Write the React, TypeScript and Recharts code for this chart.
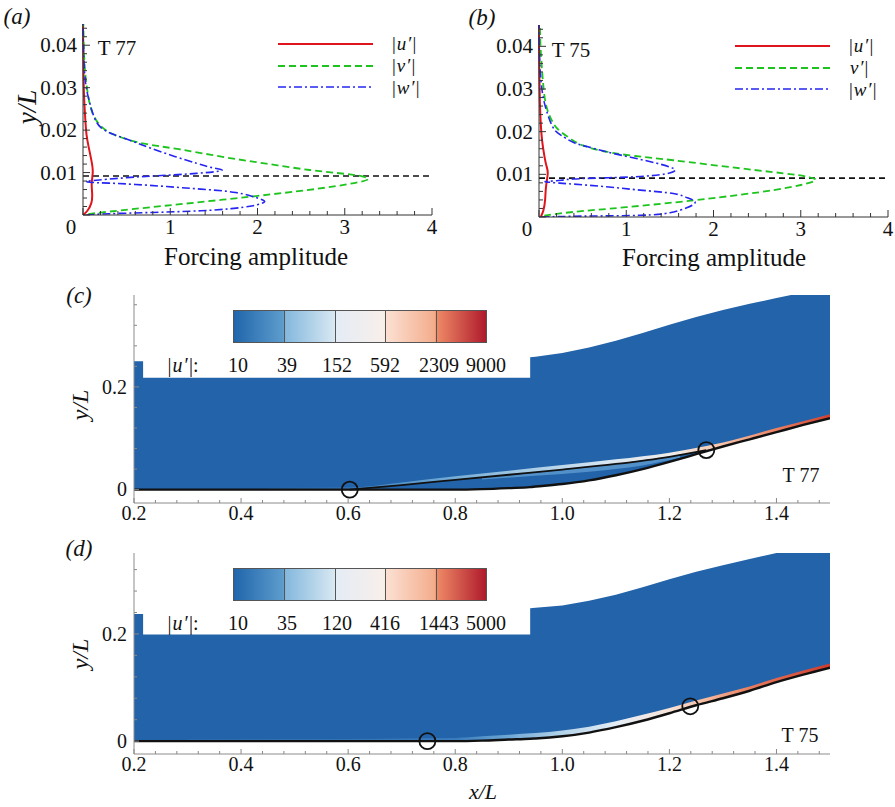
import React from 'react';
import { Area, ComposedChart, Legend, Line, ReferenceDot, ReferenceLine, XAxis, YAxis } from 'recharts';

const SERIF = "'Liberation Serif', 'Times New Roman', Times, serif";
const BLUE = '#2263a9';

// forcing profiles (a) T77, pairs of [amplitude, y/L]
const t77U = [[0, 0], [0.05, 0.001], [0.095, 0.0028], [0.105, 0.005], [0.1, 0.0075], [0.112, 0.0102], [0.095, 0.013], [0.065, 0.016], [0.04, 0.019], [0.025, 0.023], [0.012, 0.028], [0.005, 0.034], [0.001, 0.04], [0, 0.045]];
const t77V = [[0.06, 0.0002], [0.3, 0.0008], [0.9, 0.0021], [1.6, 0.0036], [2.3, 0.0052], [2.8, 0.0065], [3.15, 0.0077], [3.27, 0.0085], [3.2, 0.0091], [3.0, 0.0097], [2.6, 0.0106], [2.1, 0.0121], [1.6, 0.0137], [1.1, 0.0155], [0.7, 0.0168], [0.45, 0.0182], [0.3, 0.0195], [0.18, 0.0215], [0.1, 0.0245], [0.06, 0.028], [0.03, 0.0325], [0.012, 0.038], [0.004, 0.045]];
const t77W = [[0.04, 0], [0.3, 0.0003], [0.8, 0.0006], [1.35, 0.001], [1.7, 0.0015], [1.95, 0.0022], [2.08, 0.0031], [2.0, 0.004], [1.75, 0.0053], [1.35, 0.0061], [0.96, 0.0067], [0.6, 0.0072], [0.3, 0.0075], [0.08, 0.0077], [0.04, 0.0079], [0.1, 0.0081], [0.5, 0.0088], [0.9, 0.0093], [1.3, 0.0098], [1.55, 0.0103], [1.58, 0.0107], [1.45, 0.0113], [1.3, 0.0122], [1.05, 0.0138], [0.77, 0.0158], [0.55, 0.0175], [0.35, 0.019], [0.2, 0.0207], [0.12, 0.0235], [0.07, 0.027], [0.03, 0.031], [0.01, 0.037], [0, 0.045]];
const t77Ref = 0.0092;

// forcing profiles (b) T75
const t75U = [[0.02, 0], [0.05, 0.0015], [0.07, 0.004], [0.08, 0.007], [0.1, 0.0102], [0.085, 0.012], [0.06, 0.0145], [0.035, 0.018], [0.02, 0.022], [0.01, 0.027], [0.004, 0.033], [0, 0.04], [0, 0.045]];
const t75V = [[0.06, 0.0003], [0.4, 0.0012], [1.0, 0.0023], [1.77, 0.0039], [2.3, 0.0052], [2.69, 0.0063], [3.0, 0.0075], [3.17, 0.0086], [3.1, 0.0093], [2.9, 0.01], [2.31, 0.0114], [1.54, 0.0133], [1.1, 0.0143], [0.77, 0.0153], [0.5, 0.0168], [0.35, 0.0185], [0.22, 0.0205], [0.15, 0.0225], [0.085, 0.0259], [0.047, 0.0314], [0.02, 0.039], [0.01, 0.045]];
const t75W = [[0.03, 0], [0.5, 0.0002], [1.16, 0.0004], [1.5, 0.001], [1.7, 0.0022], [1.79, 0.0035], [1.7, 0.0045], [1.54, 0.0055], [1.16, 0.0063], [0.77, 0.0071], [0.4, 0.0077], [0.2, 0.008], [0.07, 0.0083], [0.2, 0.0085], [0.39, 0.0089], [0.8, 0.0092], [1.16, 0.0095], [1.45, 0.0101], [1.56, 0.011], [1.5, 0.0117], [1.35, 0.0126], [1.05, 0.014], [0.77, 0.0153], [0.55, 0.0165], [0.39, 0.0175], [0.25, 0.0192], [0.16, 0.021], [0.085, 0.025], [0.04, 0.029], [0.015, 0.034], [0.003, 0.04], [0, 0.045]];
const t75Ref = 0.0091;

const ampLabels = [0, 1, 2, 3, 4];
const profLabels = [0.01, 0.02, 0.03, 0.04];

// contour panels
const xLabels = [0.2, 0.4, 0.6, 0.8, 1.0, 1.2, 1.4];
const fieldYLabels = [0, 0.2];

const t77X = [0.2, 0.217, 0.217, 0.4, 0.6, 0.8, 0.85, 0.9, 0.94, 0.94, 0.95, 1.0, 1.05, 1.1, 1.15, 1.2, 1.25, 1.3, 1.35, 1.4, 1.45, 1.5];
const t77Wall = [0, 0, 0, 0, 0, 0, 0.001, 0.003, 0.005, 0.005, 0.006, 0.011, 0.018, 0.028, 0.04, 0.054, 0.069, 0.084, 0.098, 0.112, 0.126, 0.139];
const t77Top = [0.25, 0.25, 0.218, 0.218, 0.218, 0.218, 0.218, 0.218, 0.218, 0.258, 0.259, 0.266, 0.277, 0.29, 0.305, 0.321, 0.336, 0.35, 0.362, 0.373, 0.384, 0.395];
const t77ShearX = [0.603, 0.7, 0.8, 0.9, 1.0, 1.1, 1.2, 1.269];
const t77ShearY = [0, 0.009, 0.019, 0.029, 0.039, 0.05, 0.064, 0.077];
const t77BandX = [0.45, 0.603, 0.7, 0.8, 0.9, 1.0, 1.1, 1.2, 1.269, 1.3, 1.4, 1.5];
const t77BandLo = [0, 0, 0.009, 0.019, 0.029, 0.039, 0.05, 0.064, 0.077, 0.084, 0.112, 0.139];
const t77BandHi = [0.003, 0.004, 0.014, 0.026, 0.037, 0.048, 0.059, 0.072, 0.085, 0.092, 0.12, 0.147];
const t77BubX = [0.85, 0.95, 1.05, 1.15, 1.22];
const t77BubLo = [0.02, 0.027, 0.035, 0.047, 0.062];
const t77BubHi = [0.023, 0.033, 0.044, 0.057, 0.068];
const t77Marks = [[0.603, 0], [1.269, 0.077]];
const t77Levels = ['10', '39', '152', '592', '2309', '9000'];

const t75X = [0.2, 0.217, 0.217, 0.4, 0.6, 0.8, 0.85, 0.9, 0.94, 0.94, 0.95, 1.0, 1.05, 1.1, 1.15, 1.2, 1.25, 1.3, 1.35, 1.4, 1.45, 1.5];
const t75Wall = [0, 0, 0, 0, 0, 0, 0.001, 0.003, 0.0045, 0.0045, 0.005, 0.009, 0.016, 0.026, 0.038, 0.052, 0.067, 0.08, 0.094, 0.11, 0.124, 0.137];
const t75Top = [0.237, 0.237, 0.199, 0.199, 0.199, 0.199, 0.199, 0.199, 0.199, 0.248, 0.249, 0.253, 0.262, 0.273, 0.287, 0.302, 0.316, 0.328, 0.34, 0.351, 0.362, 0.373];
const t75BandX = [0.3, 0.5, 0.7, 0.8, 0.85, 0.9, 0.95, 1.0, 1.05, 1.1, 1.15, 1.2, 1.25, 1.3, 1.35, 1.4, 1.45, 1.5];
const t75BandLo = [0, 0, 0, 0, 0.001, 0.003, 0.005, 0.009, 0.016, 0.026, 0.038, 0.052, 0.067, 0.08, 0.094, 0.11, 0.124, 0.137];
const t75BandHi = [0.004, 0.004, 0.005, 0.006, 0.009, 0.012, 0.015, 0.02, 0.027, 0.037, 0.049, 0.062, 0.076, 0.089, 0.102, 0.118, 0.132, 0.145];
const t75Marks = [[0.748, 0], [1.239, 0.065]];
const t75Levels = ['10', '35', '120', '416', '1443', '5000'];

const pts = (a: number[][]) => a.map(([x, y]) => ({ x, y }));
// keep one point per x for the wall line
const zip = (xs: number[], ys: number[]) => xs.map((x, i) => ({ x, y: ys[i] })).filter((p, i, all) => i === 0 || p.x !== all[i - 1].x);
const zip3 = (xs: number[], lo: number[], hi: number[]) => xs.map((x, i) => ({ x, lo: lo[i], hi: hi[i] }));
const steps = (from: number, to: number, step: number) => {
  const out: number[] = [];
  for (let v = from; v <= to + 1e-9; v += step) out.push(Math.round(v * 10000) / 10000);
  return out;
};
const near = (list: number[], v: number) => list.some((m) => Math.abs(m - v) < 1e-7);

type Side = 'left' | 'right' | 'top' | 'bottom';
type TickOpts = { gap: number; minor: number; major: number; size: number; color: string; fmt: (v: number) => string; zeroDx?: number };

function inwardTick(side: Side, majors: number[], labels: number[], o: TickOpts) {
  return (p: any) => {
    const v = p.payload.value;
    const len = near(majors, v) ? o.major : o.minor;
    const show = near(labels, v);
    const ts = { fontFamily: SERIF, fontSize: o.size, fill: '#111' };
    let ln: React.ReactNode = null;
    let tx: React.ReactNode = null;
    if (side === 'left') {
      const ax = p.x + o.gap;
      ln = <line x1={ax} x2={ax + len} y1={p.y} y2={p.y} stroke={o.color} />;
      if (show) tx = <text x={p.x} y={p.y} dy="0.34em" textAnchor="end" style={ts}>{o.fmt(v)}</text>;
    } else if (side === 'right') {
      ln = <line x1={p.x} x2={p.x - len} y1={p.y} y2={p.y} stroke={o.color} />;
    } else if (side === 'top') {
      ln = <line x1={p.x} x2={p.x} y1={p.y} y2={p.y + len} stroke={o.color} />;
    } else {
      const ay = p.y - o.gap;
      ln = <line x1={p.x} x2={p.x} y1={ay} y2={ay - len} stroke={o.color} />;
      if (show) tx = <text x={p.x + (v === 0 && o.zeroDx ? o.zeroDx : 0)} y={p.y} dy="0.72em" textAnchor="middle" style={ts}>{o.fmt(v)}</text>;
    }
    return <g>{ln}{tx}</g>;
  };
}

function Txt({ x, y, size, italic, rotate, children }: { x: number; y: number; size: number; italic?: boolean; rotate?: boolean; children: React.ReactNode }) {
  return (
    <div style={{ position: 'absolute', left: x, top: y, transform: `translate(-50%, -50%)${rotate ? ' rotate(-90deg)' : ''}`, fontSize: size, fontStyle: italic ? 'italic' : 'normal', fontFamily: SERIF, whiteSpace: 'nowrap', lineHeight: 1, color: '#111' }}>
      {children}
    </div>
  );
}

// |u'| style label: upright bars, italic symbol
function Sym({ pre, sym, post }: { pre: string; sym: string; post: string }) {
  return (
    <span>
      {pre}<i style={{ padding: '0 2px 0 1px' }}>{sym}</i>{post}
    </span>
  );
}

type Series = { key: string; data: number[][]; color: string; dash?: string; width: number; pre: string; sym: string };

function ProfilePanel({ left, width, top, right, xAxisH, yAxisW, series, refY, legendLeft, legendTop }: { left: number; width: number; top: number; right: number; xAxisH: number; yAxisW: number; series: Series[]; refY: number; legendLeft: number; legendTop: number }) {
  const xT = steps(0, 4, 0.2);
  const yT = steps(0, 0.044, 0.002);
  const yMaj = steps(0, 0.04, 0.01);
  const base = { gap: 6, minor: 4, major: 7, size: 21, color: '#333' };
  const legend = () => (
    <div style={{ fontFamily: SERIF }}>
      {series.map((s) => (
        <div key={s.key} style={{ display: 'flex', alignItems: 'center', height: 21.7 }}>
          <svg width={95} height={8}>
            <line x1={0} x2={95} y1={4} y2={4} stroke={s.color} strokeWidth={s.width} strokeDasharray={s.dash} />
          </svg>
          <span style={{ marginLeft: 19, fontSize: 19, lineHeight: 1, color: '#111' }}>
            <Sym pre={s.pre} sym={s.sym} post={'\u2032|'} />
          </span>
        </div>
      ))}
    </div>
  );
  return (
    <div style={{ position: 'absolute', left, top: 0 }}>
      <ComposedChart width={width} height={280} margin={{ top, right, bottom: 0, left: 0 }}>
        <XAxis xAxisId={0} dataKey="x" type="number" domain={[0, 4]} ticks={xT} interval={0} height={xAxisH} tickSize={0} tickMargin={4} axisLine={{ stroke: '#333' }} tickLine={false}
          tick={inwardTick('bottom', ampLabels, ampLabels, { ...base, gap: 4, fmt: (v) => String(v), zeroDx: -12 })} />
        <XAxis xAxisId="t" orientation="top" type="number" domain={[0, 4]} ticks={xT} interval={0} height={0} tickSize={0} tickMargin={0} axisLine={{ stroke: '#333' }} tickLine={false}
          tick={inwardTick('top', ampLabels, [], { ...base, fmt: String })} />
        <YAxis yAxisId={0} type="number" domain={[0, 0.045]} ticks={yT} interval={0} width={yAxisW} tickSize={0} tickMargin={6} axisLine={{ stroke: '#333' }} tickLine={false} allowDataOverflow
          tick={inwardTick('left', yMaj, profLabels, { ...base, fmt: (v) => v.toFixed(2) })} />
        <YAxis yAxisId="r" orientation="right" type="number" domain={[0, 0.045]} ticks={yT} interval={0} width={0} tickSize={0} tickMargin={0} axisLine={{ stroke: '#333' }} tickLine={false}
          tick={inwardTick('right', yMaj, [], { ...base, fmt: String })} />
        <ReferenceLine y={refY} stroke="#111" strokeDasharray="6 4" strokeWidth={1.6} />
        {series.map((s) => (
          <Line key={s.key} name={s.key} data={pts(s.data)} dataKey="y" type="natural" stroke={s.color} strokeWidth={s.width} strokeDasharray={s.dash} dot={false} activeDot={false} isAnimationActive={false} />
        ))}
        <Legend layout="horizontal" verticalAlign="middle" align="center" content={legend} wrapperStyle={{ left: legendLeft, top: legendTop, width: 170 }} />
      </ComposedChart>
    </div>
  );
}

type Field = {
  top: number; height: number; mTop: number; xAxisH: number; yDomain: [number, number];
  x: number[]; wall: number[]; upper: number[];
  shearX?: number[]; shearY?: number[];
  bandX: number[]; bandLo: number[]; bandHi: number[]; stops: [number, string][];
  bubX?: number[]; bubLo?: number[]; bubHi?: number[];
  marks: number[][]; id: string;
};

function FieldPanel(f: Field) {
  const xT = steps(0.2, 1.5, 0.04);
  const yT = steps(0, f.yDomain[1], 0.04);
  const base = { gap: 3, minor: 3, major: 5, size: 20, color: '#888' };
  const range = (d: any) => [d.lo, d.hi];
  return (
    <div style={{ position: 'absolute', left: 0, top: f.top }}>
      <ComposedChart width={895} height={f.height} margin={{ top: f.mTop, right: 65, bottom: 0, left: 0 }}>
        <defs>
          <linearGradient id={f.id} x1="0" y1="0" x2="1" y2="0">
            {f.stops.map(([o, c]) => <stop key={o} offset={o} stopColor={c} />)}
          </linearGradient>
        </defs>
        <XAxis xAxisId={0} dataKey="x" type="number" domain={[0.2, 1.5]} ticks={xT} interval={0} height={f.xAxisH} tickSize={0} tickMargin={3} axisLine={{ stroke: '#8c8c8c' }} tickLine={false} allowDataOverflow
          tick={inwardTick('bottom', xLabels, xLabels, { ...base, fmt: (v) => v.toFixed(1) })} />
        <XAxis xAxisId="t" orientation="top" type="number" domain={[0.2, 1.5]} ticks={xT} interval={0} height={0} tickSize={0} tickMargin={0} axisLine={{ stroke: '#8c8c8c' }} tickLine={false}
          tick={inwardTick('top', xLabels, [], { ...base, fmt: String })} />
        <YAxis yAxisId={0} type="number" domain={f.yDomain} ticks={yT} interval={0} width={134} tickSize={0} tickMargin={7} axisLine={{ stroke: '#8c8c8c' }} tickLine={false} allowDataOverflow
          tick={inwardTick('left', fieldYLabels, fieldYLabels, { ...base, gap: 7, fmt: (v) => (v === 0 ? '0' : v.toFixed(1)) })} />
        <YAxis yAxisId="r" orientation="right" type="number" domain={f.yDomain} ticks={yT} interval={0} width={0} tickSize={0} tickMargin={0} axisLine={{ stroke: '#8c8c8c' }} tickLine={false}
          tick={inwardTick('right', fieldYLabels, [], { ...base, fmt: String })} />
        <Area data={zip3(f.x, f.wall, f.upper)} dataKey={range} type="linear" fill={BLUE} fillOpacity={1} stroke="none" isAnimationActive={false} />
        <Area data={zip3(f.bandX, f.bandLo, f.bandHi)} dataKey={range} type="monotone" fill={`url(#${f.id})`} fillOpacity={1} stroke="none" isAnimationActive={false} />
        {f.bubX && (
          <Area data={zip3(f.bubX, f.bubLo!, f.bubHi!)} dataKey={range} type="monotone" fill="#5e9bd0" fillOpacity={0.8} stroke="none" isAnimationActive={false} />
        )}
        <Line data={zip(f.x, f.wall)} dataKey="y" type="monotone" stroke="#111" strokeWidth={2.4} dot={false} activeDot={false} isAnimationActive={false} />
        {f.shearX && (
          <Line data={zip(f.shearX, f.shearY!)} dataKey="y" type="monotone" stroke="#111" strokeWidth={1.8} dot={false} activeDot={false} isAnimationActive={false} />
        )}
        {f.marks.map(([x, y]) => (
          <ReferenceDot key={x} x={x} y={y} r={8} fill="none" stroke="#111" strokeWidth={1.8} />
        ))}
      </ComposedChart>
    </div>
  );
}

const CB_GRAD = 'linear-gradient(to right, #2166ac 0%, #5d9ccc 19.5%, #84b8dd 20.5%, #d6e7f2 39.5%, #e4ecf5 40.5%, #f8efea 59.5%, #fbe0d2 60.5%, #f4ad8d 79.5%, #ee8a66 80.5%, #b01a2c 100%)';
const levelX = [238, 287, 337, 385, 439, 486];

function Colorbar({ top, levels }: { top: number; levels: string[] }) {
  const left = 233;
  const w = 254;
  return (
    <>
      <div style={{ position: 'absolute', left, top, width: w, height: 33, background: CB_GRAD, border: '1px solid #555', boxSizing: 'border-box' }}>
        {[1, 2, 3, 4].map((i) => (
          <div key={i} style={{ position: 'absolute', left: (i * w) / 5 - 1, top: 0, bottom: 0, width: 1, background: '#555' }} />
        ))}
      </div>
      <Txt x={183} y={top + 55} size={20}><Sym pre="|" sym="u" post={'\u2032|:'} /></Txt>
      {levels.map((l, i) => (
        <Txt key={l} x={levelX[i]} y={top + 55} size={20}>{l}</Txt>
      ))}
    </>
  );
}

const aSeries: Series[] = [
  { key: 'u', data: t77U, color: '#e0141c', width: 2, pre: '|', sym: 'u' },
  { key: 'v', data: t77V, color: '#1ec41e', dash: '7 4', width: 1.8, pre: '|', sym: 'v' },
  { key: 'w', data: t77W, color: '#2525f2', dash: '8 3 2 3', width: 1.6, pre: '|', sym: 'w' },
];
const bSeries: Series[] = [
  { key: 'u', data: t75U, color: '#e0141c', width: 2, pre: '|', sym: 'u' },
  { key: 'v', data: t75V, color: '#1ec41e', dash: '7 4', width: 1.8, pre: '', sym: 'v' },
  { key: 'w', data: t75W, color: '#2525f2', dash: '8 3 2 3', width: 1.6, pre: '|', sym: 'w' },
];

// gradient stops along x of the highlighted bands
const stopsC: [number, string][] = [[0, '#2a6aae'], [0.15, '#3a7cbc'], [0.3, '#6aa5d3'], [0.45, '#a3c9e4'], [0.6, '#d6e6f2'], [0.72, '#f1ece8'], [0.8, '#f7c8b0'], [0.9, '#ec8464'], [1, '#d2402f']];
const stopsD: [number, string][] = [[0, '#2a69ad'], [0.42, '#3a7cbd'], [0.5, '#6ea8d5'], [0.58, '#b2d2e8'], [0.67, '#e6eef6'], [0.75, '#f7e3d8'], [0.81, '#f4b89c'], [0.875, '#ea7d5e'], [1, '#cf3a2e']];

export default function App() {
  return (
    <div style={{ position: 'absolute', left: 0, top: 0, width: 895, height: 807, background: '#fff', overflow: 'hidden' }}>
      <ProfilePanel left={0} width={440} top={24} right={8} xAxisH={65} yAxisW={83} series={aSeries} refY={t77Ref} legendLeft={278} legendTop={33} />
      <ProfilePanel left={440} width={455} top={25} right={7} xAxisH={63} yAxisW={99} series={bSeries} refY={t75Ref} legendLeft={295} legendTop={35} />
      <FieldPanel id="gc" top={280} height={250} mTop={15} xAxisH={27} yDomain={[-0.026, 0.379]}
        x={t77X} wall={t77Wall} upper={t77Top} shearX={t77ShearX} shearY={t77ShearY}
        bandX={t77BandX} bandLo={t77BandLo} bandHi={t77BandHi} stops={stopsC}
        bubX={t77BubX} bubLo={t77BubLo} bubHi={t77BubHi} marks={t77Marks} />
      <FieldPanel id="gd" top={540} height={267} mTop={13} xAxisH={53} yDomain={[-0.024, 0.351]}
        x={t75X} wall={t75Wall} upper={t75Top}
        bandX={t75BandX} bandLo={t75BandLo} bandHi={t75BandHi} stops={stopsD} marks={t75Marks} />

      <Colorbar top={310} levels={t77Levels} />
      <Colorbar top={568} levels={t75Levels} />

      <Txt x={17} y={16} size={23} italic>(a)</Txt>
      <Txt x={482} y={17} size={23} italic>(b)</Txt>
      <Txt x={79} y={295} size={23} italic>(c)</Txt>
      <Txt x={79} y={548} size={23} italic>(d)</Txt>
      <Txt x={27} y={107} size={27} italic rotate>y/L</Txt>
      <Txt x={256} y={256} size={25}>Forcing amplitude</Txt>
      <Txt x={714} y={257} size={25}>Forcing amplitude</Txt>
      <Txt x={117} y={48} size={21}>T 77</Txt>
      <Txt x={571} y={50} size={21}>T 75</Txt>
      <Txt x={80} y={405} size={24} italic rotate>y/L</Txt>
      <Txt x={80} y={654} size={24} italic rotate>y/L</Txt>
      <Txt x={801} y={475} size={20}>T 77</Txt>
      <Txt x={800} y={735} size={20}>T 75</Txt>
      <Txt x={483} y={792} size={22} italic>x/L</Txt>
    </div>
  );
}
